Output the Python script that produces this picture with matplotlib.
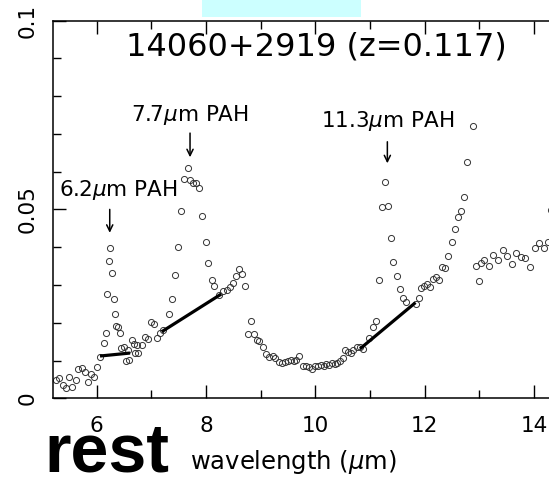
import matplotlib
matplotlib.use("Agg")
import matplotlib.pyplot as plt
from matplotlib.patches import Rectangle
from matplotlib.ticker import MultipleLocator

plt.rcParams["font.family"] = ["DejaVu Sans"]
plt.rcParams["mathtext.fontset"] = "dejavusans"

# IRS low-resolution spectrum, rest-frame wavelength (micron) and flux density
wave_um = [
    5.255, 5.310, 5.380, 5.438, 5.493, 5.554, 5.612, 5.662, 5.722, 5.782,
    5.837, 5.899, 5.951, 6.009, 6.064, 6.137, 6.165, 6.192, 6.220, 6.247,
    6.276, 6.307, 6.335, 6.357, 6.386, 6.417, 6.445, 6.499, 6.531, 6.567,
    6.585, 6.646, 6.682, 6.701, 6.728, 6.756, 6.820, 6.880, 6.942, 6.990,
    7.048, 7.100, 7.154, 7.217, 7.326, 7.381, 7.436, 7.493, 7.542, 7.603,
    7.661, 7.707, 7.767, 7.817, 7.877, 7.932, 7.994, 8.042, 8.104, 8.142,
    8.228, 8.307, 8.378, 8.439, 8.488, 8.548, 8.603, 8.664, 8.713, 8.774,
    8.828, 8.883, 8.927, 8.975, 9.042, 9.097, 9.158, 9.220, 9.267, 9.330,
    9.386, 9.441, 9.496, 9.551, 9.600, 9.646, 9.705, 9.780, 9.835, 9.888,
    9.939, 9.985, 10.045, 10.100, 10.155, 10.195, 10.250, 10.296, 10.354, 10.402,
    10.451, 10.502, 10.543, 10.594, 10.645, 10.694, 10.753, 10.822, 10.877, 10.985,
    11.046, 11.106, 11.157, 11.210, 11.274, 11.326, 11.384, 11.426, 11.499, 11.549,
    11.604, 11.664, 11.842, 11.887, 11.929, 11.984, 12.037, 12.092, 12.143, 12.207,
    12.266, 12.323, 12.378, 12.427, 12.491, 12.546, 12.614, 12.668, 12.720, 12.769,
    12.881, 12.939, 12.998, 13.022, 13.089, 13.177, 13.250, 13.342, 13.424, 13.512,
    13.589, 13.675, 13.753, 13.830, 13.927, 14.013, 14.092, 14.180, 14.253, 14.320,
]
flux = [
    0.00497, 0.00537, 0.00352, 0.00272, 0.00563, 0.00299, 0.00497, 0.00775, 0.00802, 0.00696,
    0.00431, 0.00656, 0.00563, 0.00828, 0.01106, 0.01476, 0.01720, 0.02767, 0.03640, 0.03968,
    0.03307, 0.02619, 0.02230, 0.01913, 0.01899, 0.01741, 0.01344, 0.01370, 0.01000, 0.01278,
    0.01021, 0.01534, 0.01450, 0.01190, 0.01410, 0.01212, 0.01402, 0.01614, 0.01563, 0.02019,
    0.01960, 0.01595, 0.01735, 0.01807, 0.02230, 0.02632, 0.03257, 0.04003, 0.04963, 0.05802,
    0.06085, 0.05775, 0.05709, 0.05688, 0.05556, 0.04823, 0.04143, 0.03571, 0.03130, 0.02971,
    0.02746, 0.02852, 0.02878, 0.02952, 0.03058, 0.03235, 0.03413, 0.03283, 0.02971, 0.01701,
    0.02058, 0.01693, 0.01550, 0.01508, 0.01370, 0.01164, 0.01093, 0.01119, 0.01079, 0.00968,
    0.00942, 0.00974, 0.01000, 0.01005, 0.00981, 0.01019, 0.01119, 0.00854, 0.00847, 0.00820,
    0.00770, 0.00854, 0.00854, 0.00881, 0.00854, 0.00902, 0.00881, 0.00926, 0.00913, 0.00926,
    0.01000, 0.01066, 0.01286, 0.01233, 0.01212, 0.01278, 0.01357, 0.01357, 0.01296, 0.01608,
    0.01899, 0.02058, 0.03130, 0.05053, 0.05730, 0.05095, 0.04233, 0.03614, 0.03249, 0.02884,
    0.02667, 0.02556, 0.02508, 0.02646, 0.02910, 0.02971, 0.03032, 0.02944, 0.03169, 0.03217,
    0.03130, 0.03479, 0.03447, 0.03757, 0.04143, 0.04492, 0.04804, 0.04963, 0.05317, 0.06259,
    0.07204, 0.03492, 0.03095, 0.03571, 0.03659, 0.03513, 0.03791, 0.03659, 0.03923, 0.03765,
    0.03566, 0.03836, 0.03751, 0.03704, 0.03474, 0.03989, 0.04108, 0.03968, 0.04148, 0.04980,
]

# Linear continua under the PAH features
cont_wave = [[6.060, 6.609], [7.189, 8.278], [10.817, 11.832]]
cont_flux = [[0.01119, 0.01198], [0.01762, 0.02759], [0.01310, 0.02534]]

# PAH feature labels: text, label position, arrow x, arrow top / tip
pah_labels = [r"6.2$\mu$m PAH", r"7.7$\mu$m PAH", r"11.3$\mu$m PAH"]
pah_text_x = [6.399, 7.698, 11.329]
pah_text_y = [0.05352, 0.07344, 0.07185]
pah_arrow_x = [6.238, 7.707, 11.317]
pah_arrow_top = [0.0500, 0.0702, 0.0679]
pah_arrow_tip = [0.0438, 0.0638, 0.0622]

title = "14060+2919 (z=0.117)"
x_ticks = [6, 8, 10, 12, 14]
y_ticks = [0, 0.05, 0.1]
y_ticklabels = ["0", "0.05", "0.1"]

W, H = 549, 479
fig = plt.figure(figsize=(W / 100, H / 100), dpi=100)
ax = fig.add_axes([53 / W, (H - 398.3) / H, (566.8 - 53) / W, (398.3 - 20.5) / H])

ax.plot(wave_um, flux, linestyle="none", marker="o", markersize=4.4,
        markerfacecolor="none", markeredgecolor="#333333", markeredgewidth=0.7,
        zorder=2)
for cw, cf in zip(cont_wave, cont_flux):
    ax.plot(cw, cf, color="black", linewidth=2.3, solid_capstyle="butt", zorder=3)

for lbl, tx, ty, axp, atop, atip in zip(pah_labels, pah_text_x, pah_text_y,
                                        pah_arrow_x, pah_arrow_top, pah_arrow_tip):
    ax.text(tx, ty, lbl, ha="center", va="baseline", fontsize=15.5)
    ax.annotate("", xy=(axp, atip), xytext=(axp, atop),
                arrowprops=dict(arrowstyle="->,head_length=0.45,head_width=0.22",
                                lw=1.1, color="black", shrinkA=0, shrinkB=0))

ax.set_xlim(5.2, 14.6)
ax.set_ylim(0, 0.1)
ax.set_xticks(x_ticks)
ax.set_xticklabels([str(t) for t in x_ticks])
ax.xaxis.set_minor_locator(MultipleLocator(1))
ax.set_yticks(y_ticks)
ax.set_yticklabels(y_ticklabels)
ax.yaxis.set_minor_locator(MultipleLocator(0.01))

for side in ["left", "top", "bottom", "right"]:
    ax.spines[side].set_linewidth(1.1)

ax.tick_params(which="both", direction="in", top=True, right=True, width=1.0)
ax.tick_params(which="major", length=9.4)
ax.tick_params(which="minor", length=5.5)
ax.tick_params(axis="x", which="major", pad=13, labelsize=15.5)
ax.tick_params(axis="y", which="major", pad=11, labelsize=15.5)
for t in ax.get_yticklabels():
    t.set_rotation(90)
    t.set_va("center")

fig.text(316 / W, (H - 55) / H, title, ha="center", va="baseline", fontsize=23)
fig.text(293.5 / W, (H - 469) / H, r"wavelength ($\mu$m)", ha="center",
         va="baseline", fontsize=17.5)
fig.text(44 / W, (H - 472) / H, "rest", ha="left", va="baseline", fontsize=49,
         fontweight="bold", family="Liberation Sans")

fig.add_artist(Rectangle((201.7 / W, (H - 16.7) / H), 159.6 / W, 16.7 / H,
                         transform=fig.transFigure, facecolor="#ccffff",
                         edgecolor="none", zorder=0))

fig.savefig("out.png", dpi=100)
